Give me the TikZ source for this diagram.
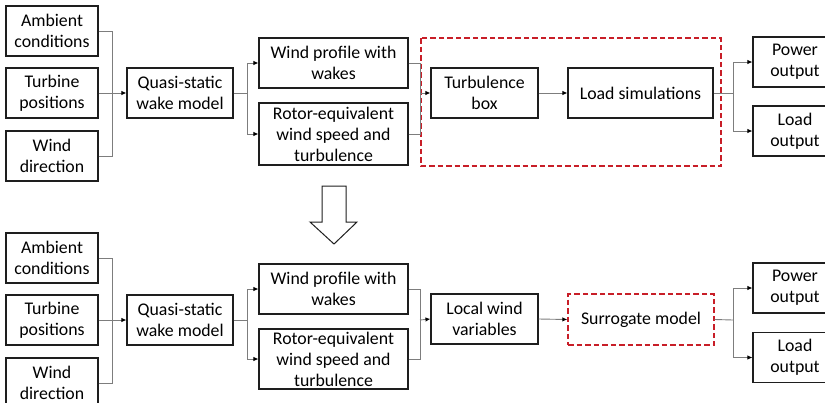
\documentclass[tikz,border=0pt]{standalone}
\usepackage{fontspec}
\setmainfont{Carlito}
\usetikzlibrary{arrows.meta}
\definecolor{boxc}{RGB}{30,30,30}
\definecolor{connc}{RGB}{125,125,125}
\definecolor{redc}{RGB}{200,30,40}
\begin{document}
\begin{tikzpicture}[x=1pt,y=-1pt,
  box/.style={draw=boxc, line width=1.1pt, align=center, inner sep=0pt, text=black,
    font=\fontsize{17.8}{21}\selectfont},
  conn/.style={draw=connc, line width=0.9pt},
  arr/.style={conn, -{Latex[length=5pt,width=4.5pt,color=black]}},
  redbox/.style={draw=redc, line width=1.3pt, dash pattern=on 5.5pt off 3pt},
]
\useasboundingbox (0,0) rectangle (825,402);
\clip (0,0) rectangle (825,402);

% ---------------- top row ----------------
\node[box, minimum width=92, minimum height=50] (amb1) at (52,31) {Ambient\\conditions};
\node[box, minimum width=92, minimum height=50] (tur1) at (52,93) {Turbine\\positions};
\node[box, minimum width=92, minimum height=50] (dir1) at (52,156) {Wind\\direction};
\node[box, minimum width=106, minimum height=50] (qs1) at (180,93) {Quasi-static\\wake model};
\node[box, minimum width=149, minimum height=50] (wp1) at (333.5,63) {Wind profile with\\wakes};
\node[box, minimum width=149, minimum height=62] (rot1) at (333.5,134) {Rotor-equivalent\\wind speed and\\turbulence};
\draw[redbox] (421,38) rectangle (721,166);
\node[box, minimum width=107, minimum height=50] (tb) at (484.5,93) {Turbulence\\box};
\node[box, minimum width=145, minimum height=50] (ls) at (640.5,93) {Load simulations};
\node[box, minimum width=84, minimum height=50] (pow1) at (795,62) {Power\\output};
\node[box, minimum width=84, minimum height=50] (lo1) at (795,131) {Load\\output};

\coordinate (j1) at (112,93);
\coordinate (j2) at (247,93);
\coordinate (j3) at (420,93);
\coordinate (j4) at (733,93);
\draw[conn] (amb1.east) -| (j1);
\draw[conn] (dir1.east) -| (j1);
\draw[arr] (tur1.east) -- (qs1.west);
\draw[conn] (qs1.east) -- (j2);
\draw[arr] (j2) |- (wp1.west);
\draw[arr] (j2) |- (rot1.west);
\draw[conn] (wp1.east) -| (j3);
\draw[conn] (rot1.east) -| (j3);
\draw[arr] (j3) -- (tb.west);
\draw[arr] (tb.east) -- (ls.west);
\draw[conn] (ls.east) -- (j4);
\draw[arr] (j4) |- (pow1.west);
\draw[arr] (j4) |- (lo1.west);

% ---------------- big arrow ----------------
\draw[draw=boxc, line width=1pt, fill=white, line join=miter]
  (322,186) -- (346,186) -- (346,222) -- (357,222) -- (334,244) -- (310,222) -- (322,222) -- cycle;

% ---------------- bottom row ----------------
\node[box, minimum width=92, minimum height=50] (amb2) at (52,258) {Ambient\\conditions};
\node[box, minimum width=92, minimum height=50] (tur2) at (52,320) {Turbine\\positions};
\node[box, minimum width=92, minimum height=50] (dir2) at (52,383) {Wind\\direction};
\node[box, minimum width=106, minimum height=50] (qs2) at (180,320) {Quasi-static\\wake model};
\node[box, minimum width=149, minimum height=50] (wp2) at (333.5,289) {Wind profile with\\wakes};
\node[box, minimum width=149, minimum height=60] (rot2) at (333.5,359) {Rotor-equivalent\\wind speed and\\turbulence};
\node[box, minimum width=107, minimum height=50] (lw) at (484.5,319) {Local wind\\variables};
\node[box, redbox, minimum width=146, minimum height=51] (sur) at (641,319.5) {Surrogate model};
\node[box, minimum width=84, minimum height=50] (pow2) at (795,288) {Power\\output};
\node[box, minimum width=84, minimum height=50] (lo2) at (795,357.5) {Load\\output};

\coordinate (k1) at (112,320);
\coordinate (k2) at (247,320);
\coordinate (k3) at (420,320);
\coordinate (k4) at (733,320);
\draw[conn] (amb2.east) -| (k1);
\draw[conn] (dir2.east) -| (k1);
\draw[arr] (tur2.east) -- (qs2.west);
\draw[conn] (qs2.east) -- (k2);
\draw[arr] (k2) |- (wp2.west);
\draw[arr] (k2) |- (rot2.west);
\draw[conn] (wp2.east) -| (k3);
\draw[conn] (rot2.east) -| (k3);
\draw[arr] (k3) -- (lw.west);
\draw[arr] (lw.east) -- (sur.west);
\draw[conn] (sur.east) -- (k4);
\draw[arr] (k4) |- (pow2.west);
\draw[arr] (k4) |- (lo2.west);
\end{tikzpicture}
\end{document}
